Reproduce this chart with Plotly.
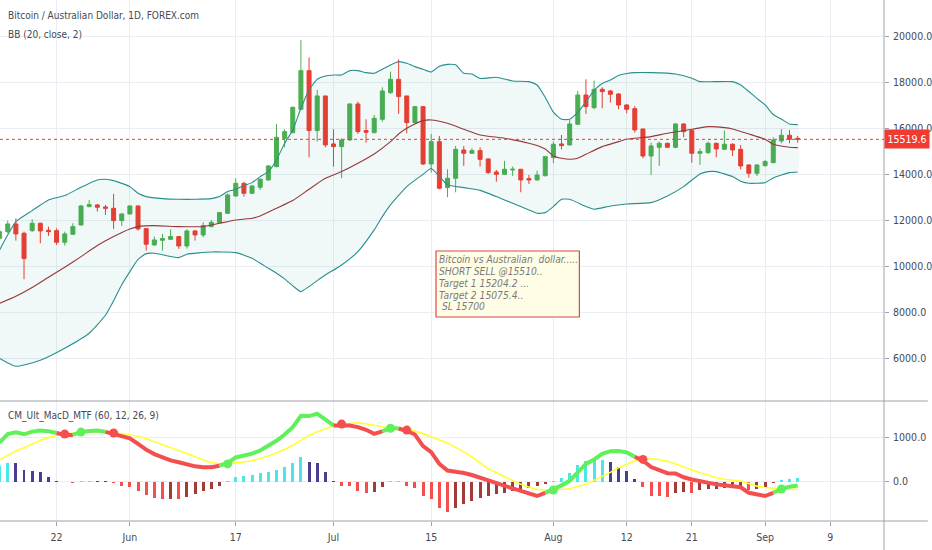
import pandas as pd
import plotly.graph_objects as go
from plotly.subplots import make_subplots

# ---------------- data ----------------
START_DATE = "2019-05-14"
END_DATE = "2019-09-05"          # daily bars, no Saturday bars (FOREX.com)

open_ = [11217, 11508, 11841, 11436, 11552, 11870, 11566, 11552, 11044, 11392,
         11798, 12595, 12667, 12580, 12522, 11986, 12276, 12624, 11638, 10928,
         11131, 11175, 11291, 10885, 11537, 11363, 11725, 11899, 12305, 13058,
         13609, 13174, 13435, 13754, 14334, 15565, 15812, 16826, 18507, 15899,
         17406, 15319, 15203, 15493, 17058, 15899, 15812, 16391, 17550, 18130,
         17406, 16246, 16942, 14450, 15420, 13421, 13826, 15058, 14913, 15029,
         14667, 14102, 14000, 14189, 14218, 13812, 13754, 13942, 14725, 15319,
         15276, 16174, 17449, 16898, 17695, 17623, 17492, 17014, 16855, 15971,
         14797, 15174, 15348, 15174, 16188, 15899, 14913, 14942, 15348, 15087,
         15305, 15087, 14406, 14044, 14377, 14508, 15449, 15696, 15565]
high = [11700, 11986, 12088, 11508, 12044, 11899, 11725, 11653, 11508, 11870,
        12667, 12885, 12711, 12667, 13146, 12305, 12638, 12638, 11638, 11291,
        11407, 11610, 11320, 11610, 11581, 11914, 12015, 12363, 13174, 13826,
        13667, 13522, 13826, 14406, 16188, 15957, 16942, 19840, 19086, 17666,
        17406, 15957, 15565, 17087, 17159, 16391, 16580, 17782, 18463, 18999,
        17406, 16971, 16971, 15754, 15667, 14218, 15232, 15232, 15131, 15174,
        14696, 14189, 14580, 14334, 14218, 13971, 14160, 14797, 15420, 15710,
        16362, 17623, 18130, 18072, 17782, 17666, 17521, 17058, 16971, 15971,
        15377, 15420, 15377, 16217, 16217, 15928, 15116, 15420, 15377, 15899,
        15348, 15276, 14435, 14435, 14623, 15609, 15971, 15928, 15667]
low = [11100, 11436, 11117, 9436, 11494, 11001, 11320, 10928, 10899, 11363,
       11769, 12566, 12378, 12233, 11624, 11754, 12262, 11552, 10682, 10885,
       10682, 11146, 10755, 10769, 11117, 11262, 11696, 11870, 12276, 13030,
       13030, 13146, 13319, 13725, 14305, 15174, 15783, 16797, 14739, 15420,
       15174, 14334, 13826, 15464, 15754, 15377, 15783, 16290, 17492, 16623,
       15783, 16188, 14406, 14073, 13348, 13001, 13218, 14363, 14884, 14334,
       14015, 13681, 13971, 13928, 13218, 13580, 13725, 13899, 14479, 15087,
       15247, 16145, 16623, 16826, 16869, 17116, 16826, 16652, 15812, 14696,
       13971, 14363, 15160, 15131, 15609, 14508, 14406, 14884, 14739, 15058,
       14797, 14218, 13855, 13928, 14334, 14479, 15348, 15348, 15377]
close = [11504, 11841, 11407, 10334, 11870, 11537, 11508, 11044, 11407, 11725,
         12624, 12682, 12566, 12522, 11986, 12276, 12624, 11624, 10957, 11146,
         11204, 11291, 10885, 11537, 11363, 11769, 11914, 12334, 13102, 13609,
         13174, 13493, 13783, 14363, 15609, 15855, 16913, 18507, 15899, 17406,
         15276, 15203, 15493, 17058, 15855, 15826, 16435, 17623, 18130, 17377,
         16246, 16942, 14450, 15420, 13392, 13826, 15087, 14913, 15029, 14652,
         14073, 14000, 14218, 14218, 13754, 13754, 13971, 14768, 15305, 15247,
         16188, 17449, 16942, 17695, 17594, 17478, 17014, 16826, 15928, 14797,
         15232, 15348, 15174, 16188, 15855, 14913, 14986, 15348, 15102, 15305,
         15058, 14363, 14044, 14406, 14551, 15493, 15696, 15522, 15519.6]
last_price = 15519.6

# Bollinger Bands (20, close, 2) read at bar numbers
bb_upper_at = [0, 2, 4, 6, 8, 10, 12, 13, 14, 16, 17, 18, 20, 22, 24, 26, 27, 28, 29, 30,
               31, 32, 33, 34, 35, 36, 37, 38, 39, 40, 41, 42, 43, 44, 45, 46, 47, 48, 49, 50,
               51, 52, 53, 54, 55, 56, 57, 58, 59, 61, 63, 65, 66, 67, 68, 69, 70, 71, 72, 73,
               74, 75, 76, 77, 78, 80, 83, 85, 86, 90, 91, 92, 93, 94, 95, 96, 97, 98]
bb_upper = [10711, 11943, 12421, 12885, 13073, 13435, 13754, 13783, 13725, 13464, 13174, 13030,
            12943, 12914, 12914, 12943, 13030, 13247, 13348, 13508, 13638, 13899, 14116, 14623,
            15348, 15928, 16869, 17666, 18130, 18275, 18318, 18318, 18507, 18507, 18420, 18391,
            18565, 18753, 18898, 18826, 18681, 18565, 18449, 18700, 18780, 18760, 18390, 18360,
            18170, 18217, 18058, 18029, 17884, 17350, 16700, 16391, 16391, 16700, 17150, 17650,
            17950, 18101, 18300, 18380, 18420, 18420, 18362, 18174, 18029, 18029, 17884, 17600,
            17300, 17014, 16600, 16400, 16188, 16159]
bb_basis_at = [0, 2, 4, 6, 8, 10, 12, 14, 16, 17, 19, 22, 25, 27, 29, 31, 32, 34, 36, 38,
               40, 42, 44, 46, 48, 49, 50, 51, 52, 53, 55, 57, 59, 62, 65, 67, 68, 69, 70, 71,
               72, 74, 76, 77, 80, 82, 85, 87, 89, 90, 92, 94, 95, 97, 98]
bb_basis = [8391, 8700, 9080, 9523, 9958, 10421, 10900, 11291, 11624, 11725, 11769, 11725,
            11725, 11870, 12015, 12088, 12189, 12522, 12856, 13348, 13826, 14116, 14479, 14884,
            15420, 15754, 16000, 16188, 16333, 16362, 16217, 15957, 15710, 15565, 15348, 15100,
            14797, 14696, 14652, 14700, 14870, 15203, 15420, 15522, 15638, 15783, 15957, 16072,
            16029, 15971, 15754, 15522, 15305, 15174, 15160]
bb_lower_at = [0, 2, 5, 8, 11, 13, 14, 15, 16, 17, 18, 19, 22, 23, 26, 29, 31, 33, 34, 35,
               36, 37, 38, 39, 40, 42, 44, 46, 47, 48, 50, 52, 53, 54, 55, 57, 59, 61, 63, 65,
               66, 67, 68, 69, 70, 72, 73, 75, 77, 80, 82, 84, 86, 87, 88, 90, 91, 92, 94, 95,
               97, 98]
bb_lower = [6000, 5652, 5913, 6435, 7087, 7870, 8500, 9200, 9769, 10300, 10550, 10566, 10378,
            10523, 10624, 10595, 10349, 9914, 9700, 9450, 9150, 8900, 9117, 9378, 9624, 10059,
            10639, 11581, 12160, 12667, 13464, 14000, 14250, 13900, 13550, 13420, 13300, 13030,
            12740, 12450, 12305, 12334, 12595, 12914, 12914, 12600, 12479, 12624, 12711, 12769,
            13058, 13464, 14015, 14116, 14116, 13899, 13700, 13609, 13638, 13841, 14073, 14102]

# CM_Ult_MacD_MTF (60, 12, 26, 9), one value per bar
macd = [880, 1070, 1110, 1065, 1125, 1150, 1135, 1095, 1050, 1050,
        1118, 1140, 1148, 1120, 1075, 1040, 975, 850, 720, 620,
        540, 480, 436, 380, 345, 325, 323, 360, 420, 545,
        590, 630, 700, 800, 920, 1060, 1226, 1480, 1474, 1530,
        1410, 1265, 1263, 1262, 1226, 1166, 1075, 1130, 1211, 1195,
        1140, 1060, 800, 662, 400, 250, 225, 195, 150, 90,
        10, -40, -100, -150, -205, -260, -321, -250, -175, -82,
        20, 200, 400, 500, 627, 686, 690, 660, 560, 470,
        330, 270, 190, 185, 100, 50, 10, -30, -60, -80,
        -100, -125, -250, -290, -321, -250, -160, -112, -85]
signal = [489, 590, 690, 765, 850, 930, 990, 1040, 1070, 1098,
          1115, 1125, 1128, 1115, 1095, 1082, 1050, 1020, 965, 895,
          825, 760, 699, 635, 560, 490, 430, 405, 400, 420,
          440, 470, 520, 575, 650, 725, 820, 930, 1040, 1120,
          1190, 1250, 1295, 1315, 1322, 1300, 1265, 1230, 1200, 1185,
          1160, 1136, 1080, 1015, 950, 870, 770, 670, 560, 420,
          291, 200, 112, 30, -60, -120, -172, -182, -187, -175,
          -157, -110, -60, 30, 112, 210, 313, 400, 470, 500,
          515, 495, 463, 400, 330, 270, 201, 150, 90, 55,
          30, 15, -40, -100, -130, -155, -165, -170, -172]
hist = [361, 429, 414, 271, 248, 211, 113, 23, -15, -25,
        10, 20, 15, 5, -30, -90, -113, -203, -301, -376,
        -399, -396, -398, -338, -278, -218, -165, -90, 23, 113,
        128, 158, 188, 211, 271, 338, 414, 549, 436, 414,
        211, 23, -90, -105, -203, -256, -226, -128, 8, 12,
        -105, -143, -331, -399, -594, -680, -582, -492, -433, -366,
        -321, -269, -246, -209, -172, -134, -97, -60, 20, 90,
        201, 366, 463, 477, 485, 440, 336, 239, 67, -112,
        -321, -325, -336, -246, -231, -246, -187, -172, -157, -142,
        -140, -134, -187, -157, -134, -37, 30, 67, 82]

price_ticks = [6000, 8000, 10000, 12000, 14000, 16000, 18000, 20000]
macd_ticks = [0, 1000]
time_tick_dates = ["2019-05-22", "2019-06-02", "2019-06-17", "2019-07-01", "2019-07-15",
                   "2019-08-01", "2019-08-12", "2019-08-21", "2019-09-01", "2019-09-09"]
time_tick_labels = ["22", "Jun", "17", "Jul", "15", "Aug", "12", "21", "Sep", "9"]

title_main = "Bitcoin / Australian Dollar, 1D, FOREX.com"
title_bb = "BB (20, close, 2)"
title_macd = "CM_Ult_MacD_MTF (60, 12, 26, 9)"
note_lines = ["Bitcoin vs Australian&nbsp; dollar.....", "SHORT SELL @15510..",
              "Target 1 15204.2 ...", "Target 2 15075.4..", "&nbsp;SL 15700"]

# ---------------- styling ----------------
W, H = 932, 550
PLOT_W = 888
PLOT_H = 521
MAIN_H = 401
FONT = "DejaVu Sans Condensed, DejaVu Sans, sans-serif"
TXT = "#454954"
GRID = "#eaeef4"
BORDER = "#9ea1a9"
UP = "#4caf50"
DOWN = "#f23b2f"
AQUA, BLUE, RED, MAROON = "#4de6e6", "#4b3d8f", "#f44f4f", "#a33a3a"
LIME = "#5ff05a"
YELLOW = "#ffff33"

# ---------------- x positions ----------------
days = pd.date_range(START_DATE, END_DATE, freq="D")
bar_dates = [d for d in days if d.dayofweek != 5]
x = list(range(len(bar_dates)))
last_date = bar_dates[-1]
tick_pos = []
for ds in time_tick_dates:
    d = pd.Timestamp(ds)
    if d in bar_dates:
        tick_pos.append(bar_dates.index(d))
    else:
        tick_pos.append(len(bar_dates) - 1 + (d - last_date).days)

fig = make_subplots(rows=2, cols=1, shared_xaxes=True, vertical_spacing=0,
                    row_heights=[MAIN_H / PLOT_H, (PLOT_H - MAIN_H) / PLOT_H])

# Bollinger fill
fig.add_trace(go.Scatter(x=bb_upper_at + bb_lower_at[::-1], y=bb_upper + bb_lower[::-1],
                         fill="toself", fillcolor="rgba(25,135,135,0.06)",
                         line=dict(width=0, shape="spline", smoothing=0.5),
                         hoverinfo="skip", showlegend=False), row=1, col=1)
for xs, ys, col in [(bb_upper_at, bb_upper, "#2a8f8f"), (bb_lower_at, bb_lower, "#2a8f8f"),
                    (bb_basis_at, bb_basis, "#963838")]:
    fig.add_trace(go.Scatter(x=xs, y=ys, mode="lines",
                             line=dict(color=col, width=1.1, shape="spline", smoothing=0.5),
                             hoverinfo="skip", showlegend=False), row=1, col=1)

fig.add_trace(go.Candlestick(x=x, open=open_, high=high, low=low, close=close,
                             increasing=dict(line=dict(color=UP, width=1), fillcolor=UP),
                             decreasing=dict(line=dict(color=DOWN, width=1), fillcolor=DOWN),
                             whiskerwidth=0, showlegend=False), row=1, col=1)

# ---- MACD panel ----
hist_colors = []
for i, h in enumerate(hist):
    prev = hist[i - 1] if i > 0 else 0
    if h > 0:
        hist_colors.append(AQUA if h > prev else BLUE)
    else:
        hist_colors.append(RED if h < prev else MAROON)
fig.add_trace(go.Bar(x=x, y=hist, marker=dict(color=hist_colors, line=dict(width=0)),
                     width=0.36, showlegend=False, hoverinfo="skip"), row=2, col=1)

fig.add_trace(go.Scatter(x=x, y=signal, mode="lines", line=dict(color=YELLOW, width=1.6),
                         showlegend=False, hoverinfo="skip"), row=2, col=1)

above = [m >= s for m, s in zip(macd, signal)]
start = 0
for i in range(1, len(macd) + 1):
    if i == len(macd) or above[i] != above[start]:
        a = max(start - 1, 0)
        fig.add_trace(go.Scatter(x=x[a:i], y=macd[a:i], mode="lines",
                                 line=dict(color=LIME if above[start] else RED, width=4),
                                 showlegend=False, hoverinfo="skip"), row=2, col=1)
        start = i

cx, cy, cc = [], [], []
for i in range(1, len(macd)):
    if above[i] != above[i - 1]:
        cx.append(x[i]); cy.append(signal[i]); cc.append(LIME if above[i] else RED)
fig.add_trace(go.Scatter(x=cx, y=cy, mode="markers", marker=dict(color=cc, size=9),
                         showlegend=False, hoverinfo="skip"), row=2, col=1)

# ---------------- axes ----------------
TICKFONT = dict(family=FONT, size=10.5, color=TXT)
xr = [0.05, 108.6]
fig.update_xaxes(range=xr, tickvals=tick_pos, showgrid=True, gridcolor=GRID, gridwidth=1,
                 zeroline=False, showline=False, rangeslider_visible=False, fixedrange=True)
fig.update_xaxes(showticklabels=False, ticks="", row=1, col=1)
fig.update_xaxes(ticktext=time_tick_labels, showticklabels=True, ticks="outside", ticklen=4,
                 tickcolor=BORDER, tickfont=TICKFONT, ticklabelstandoff=2, row=2, col=1)
fig.update_yaxes(side="right", showgrid=True, gridcolor=GRID, zeroline=False, showline=False,
                 ticks="outside", ticklen=4, tickcolor=BORDER, tickfont=TICKFONT,
                 ticklabelstandoff=2, fixedrange=True)
fig.update_yaxes(range=[4143, 21578], tickvals=price_ticks,
                 ticktext=[f"{v:.1f}" for v in price_ticks], row=1, col=1)
fig.update_yaxes(range=[-883, 1813], tickvals=macd_ticks,
                 ticktext=[f"{v:.1f}" for v in macd_ticks], row=2, col=1)

sep_y = (PLOT_H - MAIN_H) / PLOT_H
shapes = [
    dict(type="line", xref="paper", yref="paper", x0=0, x1=W / PLOT_W, y0=sep_y, y1=sep_y,
         line=dict(color=BORDER, width=1)),
    dict(type="line", xref="paper", yref="paper", x0=0, x1=W / PLOT_W, y0=0, y1=0,
         line=dict(color=BORDER, width=1)),
    dict(type="line", xref="paper", yref="paper", x0=1, x1=1, y0=-(H - PLOT_H) / PLOT_H, y1=1,
         line=dict(color=BORDER, width=1)),
    dict(type="line", xref="x domain", yref="y", x0=0, x1=1, y0=last_price, y1=last_price,
         line=dict(color=DOWN, width=1, dash="dot")),
    dict(type="rect", xref="paper", yref="paper", x0=438 / PLOT_W, x1=582 / PLOT_W,
         y0=(PLOT_H - 317) / PLOT_H, y1=(PLOT_H - 251) / PLOT_H,
         fillcolor="#fffde6", line=dict(color="#d84a4a", width=1.2), layer="above"),
]

def py(p):
    return (PLOT_H - p) / PLOT_H

ann = [
    dict(text=title_main, x=6 / PLOT_W, y=py(16), font=dict(size=10, color=TXT)),
    dict(text=title_bb, x=6 / PLOT_W, y=py(34), font=dict(size=10, color=TXT)),
    dict(text=title_macd, x=6 / PLOT_W, y=py(416), font=dict(size=10, color=TXT)),
]
for k, line in enumerate(note_lines):
    ann.append(dict(text="<i>" + line + "</i>", x=439 / PLOT_W, y=py(259 + 12 * k),
                    font=dict(size=10.2, color="#7a7a7a")))
annotations = []
for a in ann:
    a.update(xref="paper", yref="paper", xanchor="left", yanchor="middle", showarrow=False)
    a["font"]["family"] = FONT
    annotations.append(a)
annotations.append(dict(text=f"{last_price:.1f}", xref="paper", yref="y", x=1, y=last_price,
                        xanchor="left", yanchor="middle", showarrow=False, width=42, height=16,
                        bgcolor="#f23b2f", font=dict(family=FONT, size=10.5, color="white")))

fig.update_layout(width=W, height=H, autosize=False, paper_bgcolor="white", plot_bgcolor="white",
                  margin=dict(l=0, r=W - PLOT_W, t=0, b=H - PLOT_H), showlegend=False,
                  shapes=shapes, annotations=annotations, bargap=0, hovermode=False)

fig.write_html("out.html", config={"displayModeBar": False, "staticPlot": True},
               post_script="document.body.style.margin='0';document.body.style.overflow='hidden';")
